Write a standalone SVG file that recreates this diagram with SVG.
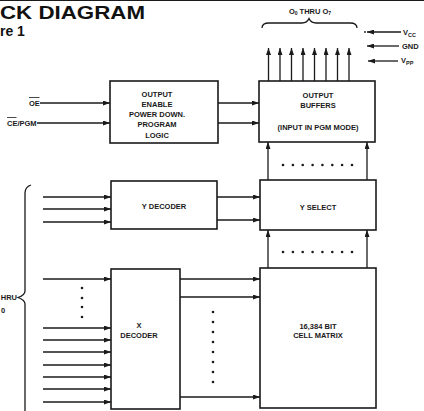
<svg xmlns="http://www.w3.org/2000/svg" width="424" height="411" viewBox="0 0 424 411">
<defs>
<marker id="ah" viewBox="0 0 7 5" refX="7" refY="2.5" markerWidth="7" markerHeight="5" markerUnits="userSpaceOnUse" orient="auto">
<path d="M0,0 L7,2.5 L0,5 z" fill="#1a1a1a"/>
</marker>
<style>
.box{fill:#fff;stroke:#1a1a1a;stroke-width:1.6}
.ln{fill:none;stroke:#1a1a1a;stroke-width:1.3}
.ar{fill:none;stroke:#1a1a1a;stroke-width:1.3;marker-end:url(#ah)}
.t{font-family:"Liberation Sans",Arial,sans-serif;font-weight:bold;font-size:7.5px;fill:#1a1a1a;text-anchor:middle}
.l{font-family:"Liberation Sans",Arial,sans-serif;font-weight:bold;font-size:7.5px;fill:#1a1a1a}
.dot{fill:#1a1a1a}
</style>
</defs>
<rect width="424" height="411" fill="#fff"/>
<line x1="0" y1="0.5" x2="424" y2="0.5" stroke="#1a1a1a" stroke-width="1.2"/>
<g id="title">
<text x="0" y="18.5" font-family="'Liberation Sans',Arial,sans-serif" font-weight="bold" font-size="19" fill="#111" textLength="145" lengthAdjust="spacingAndGlyphs">CK DIAGRAM</text>
<text x="0" y="35.5" font-family="'Liberation Sans',Arial,sans-serif" font-weight="bold" font-size="14" fill="#111">re 1</text>
</g>
<g id="oe-box">
<rect class="box" x="110" y="81" width="108" height="62"/>
<text class="t" x="157" y="97">OUTPUT</text>
<text class="t" x="157" y="107">ENABLE</text>
<text class="t" x="157" y="117">POWER DOWN.</text>
<text class="t" x="157" y="127">PROGRAM</text>
<text class="t" x="157" y="137.5">LOGIC</text>
</g>
<g id="output-buffers">
<rect class="box" x="259" y="81" width="116" height="61"/>
<text class="t" x="318" y="97.5">OUTPUT</text>
<text class="t" x="318" y="107.5">BUFFERS</text>
<text class="t" x="318" y="130" font-size="6.5px">(INPUT IN PGM MODE)</text>
</g>
<g id="y-decoder">
<rect class="box" x="111" y="181" width="106" height="48"/>
<text class="t" x="164" y="209" font-size="8px">Y DECODER</text>
</g>
<g id="y-select">
<rect class="box" x="260" y="180" width="116" height="50"/>
<text class="t" x="318" y="210" font-size="8px">Y SELECT</text>
</g>
<g id="x-decoder">
<rect class="box" x="111" y="269" width="69" height="140"/>
<text class="t" x="139" y="328" font-size="8px">X</text>
<text class="t" x="139" y="337.5" font-size="8px">DECODER</text>
</g>
<g id="cell-matrix">
<rect class="box" x="260" y="268" width="116" height="140"/>
<text class="t" x="318" y="329" font-size="8px">16,384 BIT</text>
<text class="t" x="318" y="338" font-size="8px">CELL MATRIX</text>
</g>
<g id="labels">
<text class="l" x="29" y="105.5">OE</text>
<line x1="29" y1="97.5" x2="39.5" y2="97.5" stroke="#1a1a1a" stroke-width="0.8"/>
<text class="l" x="7" y="125.5">CE/PGM</text>
<line x1="7" y1="117.5" x2="16.5" y2="117.5" stroke="#1a1a1a" stroke-width="0.8"/>
<text class="l" x="310" y="13.5" text-anchor="middle" font-size="7">O<tspan font-size="5" dy="1.5">0</tspan><tspan dy="-1.5"> THRU O</tspan><tspan font-size="5" dy="1.5">7</tspan></text>
<text class="l" x="403" y="35" font-size="8">V<tspan font-size="5.5" dy="1.5">CC</tspan></text>
<text class="l" x="402" y="48.5" font-size="8">GND</text>
<text class="l" x="401" y="63" font-size="8">V<tspan font-size="5.5" dy="1.5">PP</tspan></text>
<text class="l" x="17" y="300" text-anchor="end">HRU</text>
<text class="l" x="1" y="313" font-size="6">0</text>
</g>
<g id="connectors">
<line class="ar" x1="40" y1="103" x2="110" y2="103"/>
<line class="ar" x1="37" y1="123" x2="110" y2="123"/>
<line class="ar" x1="218" y1="103" x2="259" y2="103"/>
<line class="ar" x1="218" y1="123" x2="259" y2="123"/>
<line class="ar" x1="268.5" y1="81" x2="268.5" y2="48"/>
<line class="ar" x1="280" y1="81" x2="280" y2="48"/>
<line class="ar" x1="291.5" y1="81" x2="291.5" y2="48"/>
<line class="ar" x1="303" y1="81" x2="303" y2="48"/>
<line class="ar" x1="314.5" y1="81" x2="314.5" y2="48"/>
<line class="ar" x1="326" y1="81" x2="326" y2="48"/>
<line class="ar" x1="337.5" y1="81" x2="337.5" y2="48"/>
<line class="ar" x1="349" y1="81" x2="349" y2="48"/>
<path class="ln" d="M262,28 Q262,23 269,23 L302,23 Q307,23 309,18.5 Q311,23 316,23 L350,23 Q357,23 357,28"/>
<line class="ar" x1="401" y1="32" x2="367" y2="32"/>
<circle class="dot" cx="365" cy="32" r="0.9"/>
<line class="ar" x1="399" y1="46" x2="367" y2="46"/>
<line class="ar" x1="398" y1="61" x2="368" y2="61"/>
<line class="ar" x1="268" y1="180" x2="268" y2="142"/>
<line class="ar" x1="367" y1="180" x2="367" y2="142"/>
<line class="ar" x1="268" y1="268" x2="268" y2="230"/>
<line class="ar" x1="367" y1="268" x2="367" y2="230"/>
<line class="ar" x1="43" y1="197" x2="111" y2="197"/>
<line class="ar" x1="43" y1="209" x2="111" y2="209"/>
<line class="ar" x1="43" y1="222" x2="111" y2="222"/>
<line class="ar" x1="217" y1="197" x2="260" y2="197"/>
<line class="ar" x1="217" y1="220" x2="260" y2="220"/>
<line class="ar" x1="43" y1="279" x2="111" y2="279"/>
<line class="ar" x1="43" y1="328" x2="111" y2="328"/>
<line class="ar" x1="43" y1="340" x2="111" y2="340"/>
<line class="ar" x1="43" y1="352" x2="111" y2="352"/>
<line class="ar" x1="43" y1="365" x2="111" y2="365"/>
<line class="ar" x1="43" y1="377" x2="111" y2="377"/>
<line class="ar" x1="43" y1="389" x2="111" y2="389"/>
<line class="ar" x1="43" y1="402" x2="111" y2="402"/>
<line class="ar" x1="180" y1="279" x2="260" y2="279"/>
<line class="ar" x1="180" y1="297" x2="260" y2="297"/>
<line class="ar" x1="180" y1="397" x2="260" y2="397"/>
<path class="ln" d="M31,185 Q25,187 25,193 L25,291 Q25,295 18,297.5 Q25,300 25,304 L25,412"/>
</g>
<g id="dots">
<circle class="dot" cx="283" cy="165" r="1.3"/><circle class="dot" cx="292.9" cy="165" r="1.3"/><circle class="dot" cx="302.7" cy="165" r="1.3"/><circle class="dot" cx="312.6" cy="165" r="1.3"/><circle class="dot" cx="322.4" cy="165" r="1.3"/><circle class="dot" cx="332.3" cy="165" r="1.3"/><circle class="dot" cx="342.1" cy="165" r="1.3"/><circle class="dot" cx="352" cy="165" r="1.3"/>
<circle class="dot" cx="283" cy="252" r="1.3"/><circle class="dot" cx="292.9" cy="252" r="1.3"/><circle class="dot" cx="302.7" cy="252" r="1.3"/><circle class="dot" cx="312.6" cy="252" r="1.3"/><circle class="dot" cx="322.4" cy="252" r="1.3"/><circle class="dot" cx="332.3" cy="252" r="1.3"/><circle class="dot" cx="342.1" cy="252" r="1.3"/><circle class="dot" cx="352" cy="252" r="1.3"/>
<circle class="dot" cx="82" cy="288" r="1.3"/><circle class="dot" cx="82" cy="298" r="1.3"/><circle class="dot" cx="82" cy="307" r="1.3"/><circle class="dot" cx="82" cy="317" r="1.3"/>
<circle class="dot" cx="213" cy="312" r="1.3"/><circle class="dot" cx="213" cy="322" r="1.3"/><circle class="dot" cx="213" cy="332" r="1.3"/><circle class="dot" cx="213" cy="342" r="1.3"/><circle class="dot" cx="213" cy="352" r="1.3"/><circle class="dot" cx="213" cy="362" r="1.3"/><circle class="dot" cx="213" cy="372" r="1.3"/><circle class="dot" cx="213" cy="382" r="1.3"/>
</g>
</svg>
